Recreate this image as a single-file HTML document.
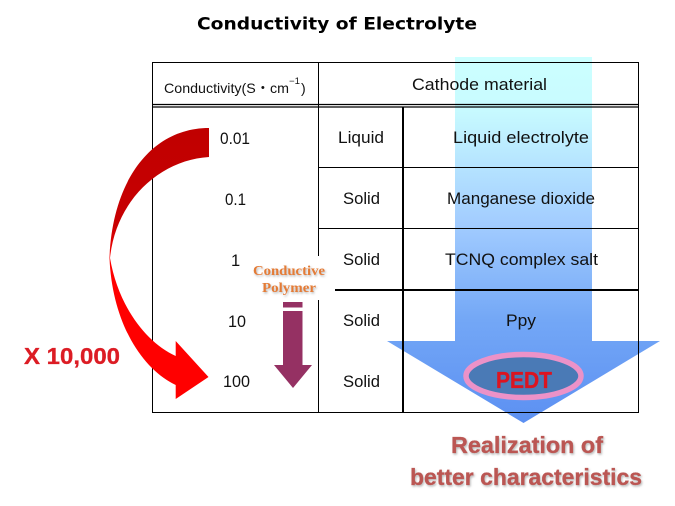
<!DOCTYPE html>
<html>
<head>
<meta charset="utf-8">
<title>Conductivity of Electrolyte</title>
<style>
html,body{margin:0;padding:0;background:#fff;width:675px;height:506px;overflow:hidden}
svg{display:block}
text{font-family:"Liberation Sans","Noto Sans CJK JP",sans-serif;fill:#111;font-size:16.500px}
</style>
</head>
<body>
<svg width="675" height="506" viewBox="0 0 675 506" xmlns="http://www.w3.org/2000/svg">
<defs>
<linearGradient id="blue" gradientUnits="userSpaceOnUse" x1="0" y1="57" x2="0" y2="423">
<stop offset="0" stop-color="#ccffff"/>
<stop offset="0.14" stop-color="#c8fbff"/>
<stop offset="0.45" stop-color="#a3cdff"/>
<stop offset="0.72" stop-color="#73a7f6"/>
<stop offset="1" stop-color="#5c90f2"/>
</linearGradient>
<linearGradient id="red" gradientUnits="userSpaceOnUse" x1="0" y1="128" x2="0" y2="399">
<stop offset="0" stop-color="#c00000"/>
<stop offset="0.36" stop-color="#c80002"/>
<stop offset="0.5" stop-color="#ff0000"/>
<stop offset="1" stop-color="#ff0000"/>
</linearGradient>
<filter id="sh" x="-10%" y="-30%" width="120%" height="170%">
<feDropShadow dx="1" dy="1.5" stdDeviation="1" flood-color="#888" flood-opacity="0.6"/>
</filter>
</defs>

<!-- big blue arrow -->
<polygon points="455,57 592,57 592,341 660,341 523.5,423 387,341 455,341" fill="url(#blue)"/>

<!-- table -->
<g fill="none" stroke="#000">
<rect x="152.5" y="62.5" width="486" height="350" stroke-width="1"/>
<line x1="152" y1="104.5" x2="639" y2="104.5" stroke-width="1.2"/>
<line x1="152" y1="107" x2="639" y2="107" stroke-width="1.2"/>
<line x1="318.5" y1="62" x2="318.5" y2="413" stroke-width="1"/>
<line x1="403" y1="107" x2="403" y2="413" stroke-width="2"/>
<line x1="318" y1="167.5" x2="639" y2="167.5" stroke-width="1"/>
<line x1="318" y1="228.5" x2="639" y2="228.5" stroke-width="1"/>
<line x1="318" y1="290" x2="639" y2="290" stroke-width="2"/>
</g>

<!-- white label backing -->
<rect x="246" y="256" width="89" height="44" fill="#fff"/>

<!-- red curved arrow -->
<path d="M209,128 C150,128 112,183 109.500,258 C112,320 140,368 175.700,385 L175.700,399 L208.500,377 L175.700,341 L175.700,356 C145,342 118,305 110,258 C116,200 160,160 209,157 Z" fill="url(#red)"/>

<!-- purple arrow -->
<rect x="283" y="302" width="19.500" height="5.500" fill="#953163"/>
<polygon points="283,311 302.500,311 302.500,365 312,365 293,388 274,365 283,365" fill="#953163"/>

<!-- ellipse -->
<ellipse cx="523.500" cy="376" rx="57.500" ry="21.500" fill="#4a7ab6" stroke="#ec92c8" stroke-width="5.500"/>

<!-- title -->
<text x="197" y="29.500" textLength="280" lengthAdjust="spacingAndGlyphs" style="font-family:'DejaVu Sans',sans-serif;font-weight:bold;font-size:16.500px;fill:#000">Conductivity of Electrolyte</text>

<!-- header -->
<text x="164" y="93" textLength="125" lengthAdjust="spacingAndGlyphs" style="font-size:14px">Conductivity(S・cm</text>
<text x="289" y="84" textLength="11" lengthAdjust="spacingAndGlyphs" style="font-size:9px">−1</text>
<text x="301" y="93" style="font-size:14px">)</text>
<text x="412" y="90" textLength="135" lengthAdjust="spacingAndGlyphs" style="font-size:16.500px">Cathode material</text>

<!-- column 1 -->
<text x="220" y="144" textLength="30" lengthAdjust="spacingAndGlyphs">0.01</text>
<text x="225" y="205" textLength="21" lengthAdjust="spacingAndGlyphs">0.1</text>
<text x="231" y="266">1</text>
<text x="228" y="327" textLength="18" lengthAdjust="spacingAndGlyphs">10</text>
<text x="223" y="387" textLength="27" lengthAdjust="spacingAndGlyphs">100</text>

<!-- column 2 -->
<text x="338" y="143" textLength="46" lengthAdjust="spacingAndGlyphs">Liquid</text>
<text x="343" y="204" textLength="37" lengthAdjust="spacingAndGlyphs">Solid</text>
<text x="343" y="265" textLength="37" lengthAdjust="spacingAndGlyphs">Solid</text>
<text x="343" y="326" textLength="37" lengthAdjust="spacingAndGlyphs">Solid</text>
<text x="343" y="387" textLength="37" lengthAdjust="spacingAndGlyphs">Solid</text>

<!-- column 3 -->
<text x="453" y="143" textLength="136" lengthAdjust="spacingAndGlyphs">Liquid electrolyte</text>
<text x="447" y="204" textLength="148" lengthAdjust="spacingAndGlyphs">Manganese dioxide</text>
<text x="445" y="265" textLength="153" lengthAdjust="spacingAndGlyphs">TCNQ complex salt</text>
<text x="506" y="326" textLength="30" lengthAdjust="spacingAndGlyphs">Ppy</text>

<!-- accents -->
<text x="496" y="388" textLength="56" lengthAdjust="spacingAndGlyphs" style="font-weight:bold;font-size:23px;fill:#dc1420;stroke:#dc1420;stroke-width:0.3px">PEDT</text>
<text x="24" y="364" textLength="96" lengthAdjust="spacingAndGlyphs" style="font-weight:bold;font-size:23px;fill:#dc1c24;stroke:#dc1c24;stroke-width:0.3px">X 10,000</text>
<g filter="url(#sh)">
<text x="253" y="275" textLength="72" lengthAdjust="spacingAndGlyphs" style="font-family:'Liberation Serif',serif;font-weight:bold;font-size:13.500px;fill:#e47b35">Conductive</text>
<text x="262" y="292" textLength="54" lengthAdjust="spacingAndGlyphs" style="font-family:'Liberation Serif',serif;font-weight:bold;font-size:13.500px;fill:#e47b35">Polymer</text>
</g>
<g filter="url(#sh)">
<text x="451" y="453" textLength="152" lengthAdjust="spacingAndGlyphs" style="font-weight:bold;font-size:23px;fill:#bb5652;stroke:#bb5652;stroke-width:0.3px">Realization of</text>
<text x="410" y="485" textLength="232" lengthAdjust="spacingAndGlyphs" style="font-weight:bold;font-size:23px;fill:#bb5652;stroke:#bb5652;stroke-width:0.3px">better characteristics</text>
</g>
</svg>
</body>
</html>
